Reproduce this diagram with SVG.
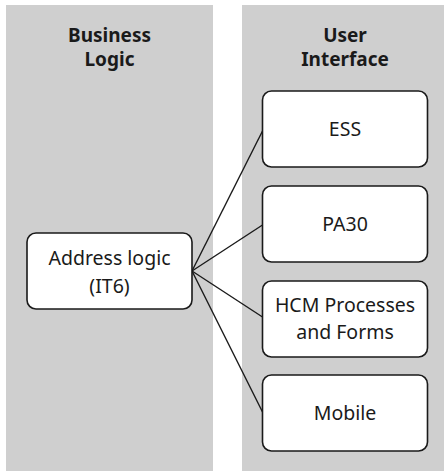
<svg xmlns="http://www.w3.org/2000/svg" width="444" height="471" viewBox="0 0 444 471">
<style>
.panel{fill:#cfcfcf}
.box{fill:#fff;stroke:#1a1a1a;stroke-width:1.6}
.title{font-family:"Noto Sans","Open Sans",sans-serif;font-weight:bold;font-size:19px;fill:#1a1a1a;text-anchor:middle}
.lbl{font-family:"Noto Sans","Open Sans",sans-serif;font-size:19.5px;fill:#1a1a1a;text-anchor:middle}
.conn{stroke:#1a1a1a;stroke-width:1.4;fill:none}
</style>
<rect width="444" height="471" fill="#fff"/>
<g id="panel-business">
<rect class="panel" x="6" y="5" width="207" height="466"/>
<text class="title" x="109.5" y="42">Business</text>
<text class="title" x="109.5" y="66">Logic</text>
</g>
<g id="panel-ui">
<rect class="panel" x="242" y="5" width="202" height="466"/>
<text class="title" x="345" y="42">User</text>
<text class="title" x="345" y="66">Interface</text>
</g>
<g id="connectors">
<line class="conn" x1="192" y1="271" x2="262.5" y2="131"/>
<line class="conn" x1="192" y1="271" x2="262.5" y2="225"/>
<line class="conn" x1="192" y1="271" x2="262.5" y2="317"/>
<line class="conn" x1="192" y1="271" x2="262.5" y2="412"/>
</g>
<g id="address-logic">
<rect class="box" x="27" y="233" width="165" height="76" rx="9"/>
<text class="lbl" x="109.5" y="265">Address logic</text>
<text class="lbl" x="109.5" y="293">(IT6)</text>
</g>
<g id="ess">
<rect class="box" x="262.5" y="91" width="165" height="76" rx="9"/>
<text class="lbl" x="345" y="136">ESS</text>
</g>
<g id="pa30">
<rect class="box" x="262.5" y="186" width="165" height="76" rx="9"/>
<text class="lbl" x="345" y="231">PA30</text>
</g>
<g id="hcm">
<rect class="box" x="262.5" y="281" width="165" height="76" rx="9"/>
<text class="lbl" x="345" y="312">HCM Processes</text>
<text class="lbl" x="345" y="338.5">and Forms</text>
</g>
<g id="mobile">
<rect class="box" x="262.5" y="375" width="165" height="76" rx="9"/>
<text class="lbl" x="345" y="420">Mobile</text>
</g>
</svg>
